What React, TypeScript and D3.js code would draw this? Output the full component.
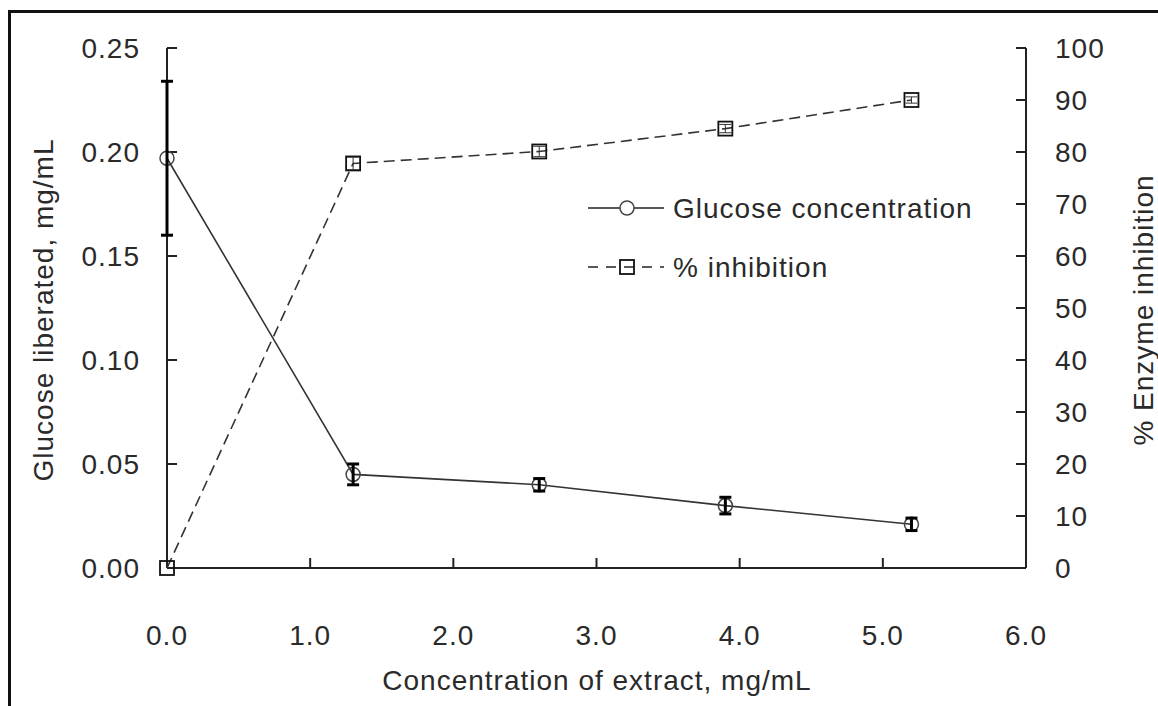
import React, { useEffect, useRef } from 'react';
import * as d3 from 'd3';

const concentration = [0, 1.3, 2.6, 3.9, 5.2];
const glucose = [0.197, 0.045, 0.04, 0.03, 0.021];
const glucoseErr = [0.037, 0.005, 0.003, 0.004, 0.003];
const inhibition = [0, 77.8, 80.1, 84.5, 90];
const inhibitionErr = [0, 1.2, 1.0, 0.8, 0.6];
const xTicks = [0, 1, 2, 3, 4, 5, 6];
const leftTicks = [0, 0.05, 0.1, 0.15, 0.2, 0.25];
const rightTicks = [0, 10, 20, 30, 40, 50, 60, 70, 80, 90, 100];
const legendLabels = ['Glucose concentration', '% inhibition'];

function App() {
    const svgRef = useRef<SVGSVGElement | null>(null);

    useEffect(() => {
        if (!svgRef.current) return;
        const svg = d3.select(svgRef.current);
        svg.selectAll('*').remove();

        const font = '"Liberation Sans", Arial, sans-serif';
        const fs = 28;
        const ink = '#2a2a2a';
        const ls = 1;

        const x = d3.scaleLinear().domain([0, 6]).range([167, 1026]);
        const yL = d3.scaleLinear().domain([0, 0.25]).range([568, 48]);
        const yR = d3.scaleLinear().domain([0, 100]).range([568, 48]);

        const label = (sel: d3.Selection<SVGTextElement, unknown, null, undefined>) =>
            sel.attr('font-family', font).attr('font-size', fs).attr('fill', ink).attr('letter-spacing', ls);

        // frame
        svg.append('rect')
            .attr('x', 9.5).attr('y', 11.5)
            .attr('width', 1200).attr('height', 800)
            .attr('fill', 'none').attr('stroke', '#111').attr('stroke-width', 3);

        // axes lines
        const axes = svg.append('g').attr('stroke', '#222').attr('stroke-width', 2);
        axes.append('line').attr('x1', x(0)).attr('x2', x(6)).attr('y1', yL(0)).attr('y2', yL(0));
        axes.append('line').attr('x1', x(0)).attr('x2', x(0)).attr('y1', yL(0)).attr('y2', yL(0.25));
        axes.append('line').attr('x1', x(6)).attr('x2', x(6)).attr('y1', yR(0)).attr('y2', yR(100));

        xTicks.forEach(t => {
            axes.append('line').attr('x1', x(t)).attr('x2', x(t)).attr('y1', yL(0)).attr('y2', yL(0) - 10);
            svg.append('text').attr('x', x(t)).attr('y', 645)
                .attr('text-anchor', 'middle').call(label)
                .text(t.toFixed(1));
        });
        leftTicks.forEach(t => {
            axes.append('line').attr('x1', x(0)).attr('x2', x(0) + 10).attr('y1', yL(t)).attr('y2', yL(t));
            svg.append('text').attr('x', 140).attr('y', yL(t)).attr('dy', '0.36em')
                .attr('text-anchor', 'end').call(label)
                .text(t.toFixed(2));
        });
        rightTicks.forEach(t => {
            axes.append('line').attr('x1', x(6)).attr('x2', x(6) - 10).attr('y1', yR(t)).attr('y2', yR(t));
            svg.append('text').attr('x', 1055).attr('y', yR(t)).attr('dy', '0.36em')
                .attr('text-anchor', 'start').call(label)
                .text(t);
        });

        // axis titles
        svg.append('text').attr('x', 597).attr('y', 690)
            .attr('text-anchor', 'middle').call(label)
            .text('Concentration of extract, mg/mL');
        svg.append('text').attr('transform', 'translate(53,310) rotate(-90)')
            .attr('text-anchor', 'middle').call(label)
            .text('Glucose liberated, mg/mL');
        svg.append('text').attr('transform', 'translate(1153,310) rotate(-90)')
            .attr('text-anchor', 'middle').call(label)
            .text('% Enzyme inhibition');

        // lines
        const lineG = d3.line<number>().x((_, i) => x(concentration[i])).y(d => yL(d));
        const lineI = d3.line<number>().x((_, i) => x(concentration[i])).y(d => yR(d));
        svg.append('path').attr('d', lineG(glucose)).attr('fill', 'none')
            .attr('stroke', '#333').attr('stroke-width', 1.6);
        svg.append('path').attr('d', lineI(inhibition)).attr('fill', 'none')
            .attr('stroke', '#333').attr('stroke-width', 1.6).attr('stroke-dasharray', '11,6');

        // markers
        concentration.forEach((c, i) => {
            svg.append('circle').attr('cx', x(c)).attr('cy', yL(glucose[i])).attr('r', 7)
                .attr('fill', 'none').attr('stroke', '#444').attr('stroke-width', 1.5);
            svg.append('rect').attr('x', x(c) - 7).attr('y', yR(inhibition[i]) - 7)
                .attr('width', 14).attr('height', 14)
                .attr('fill', 'none').attr('stroke', '#111').attr('stroke-width', 1.8);
        });

        // error bars
        concentration.forEach((c, i) => {
            const cx = x(c);
            const lo = yL(glucose[i] - glucoseErr[i]);
            const hi = yL(glucose[i] + glucoseErr[i]);
            const g = svg.append('g').attr('stroke', '#000').attr('stroke-width', 3);
            g.append('line').attr('x1', cx).attr('x2', cx).attr('y1', lo).attr('y2', hi);
            g.append('line').attr('x1', cx - 6).attr('x2', cx + 6).attr('y1', lo).attr('y2', lo);
            g.append('line').attr('x1', cx - 6).attr('x2', cx + 6).attr('y1', hi).attr('y2', hi);

            if (inhibitionErr[i] > 0) {
                const ilo = yR(inhibition[i] - inhibitionErr[i]);
                const ihi = yR(inhibition[i] + inhibitionErr[i]);
                const h = svg.append('g').attr('stroke', '#333').attr('stroke-width', 1);
                h.append('line').attr('x1', cx).attr('x2', cx).attr('y1', ilo).attr('y2', ihi);
                h.append('line').attr('x1', cx - 6).attr('x2', cx + 6).attr('y1', ilo).attr('y2', ilo);
                h.append('line').attr('x1', cx - 6).attr('x2', cx + 6).attr('y1', ihi).attr('y2', ihi);
            }
        });

        // legend
        const legend = svg.append('g');
        legend.append('line').attr('x1', 588).attr('x2', 664).attr('y1', 208).attr('y2', 208)
            .attr('stroke', '#222').attr('stroke-width', 1.6);
        legend.append('circle').attr('cx', 627).attr('cy', 208).attr('r', 7)
            .attr('fill', '#fff').attr('stroke', '#444').attr('stroke-width', 1.5);
        legend.append('line').attr('x1', 588).attr('x2', 664).attr('y1', 267).attr('y2', 267)
            .attr('stroke', '#222').attr('stroke-width', 1.6).attr('stroke-dasharray', '10,8');
        legend.append('rect').attr('x', 620).attr('y', 260).attr('width', 14).attr('height', 14)
            .attr('fill', 'none').attr('stroke', '#111').attr('stroke-width', 1.8);
        legendLabels.forEach((l, i) => {
            legend.append('text').attr('x', 673).attr('y', 208 + i * 59).attr('dy', '0.36em')
                .call(label)
                .text(l);
        });
    }, []);

    return (
        <svg ref={svgRef} width={1158} height={706}
            style={{ position: 'absolute', left: 0, top: 0, background: '#fff' }} />
    );
}

export default App;
